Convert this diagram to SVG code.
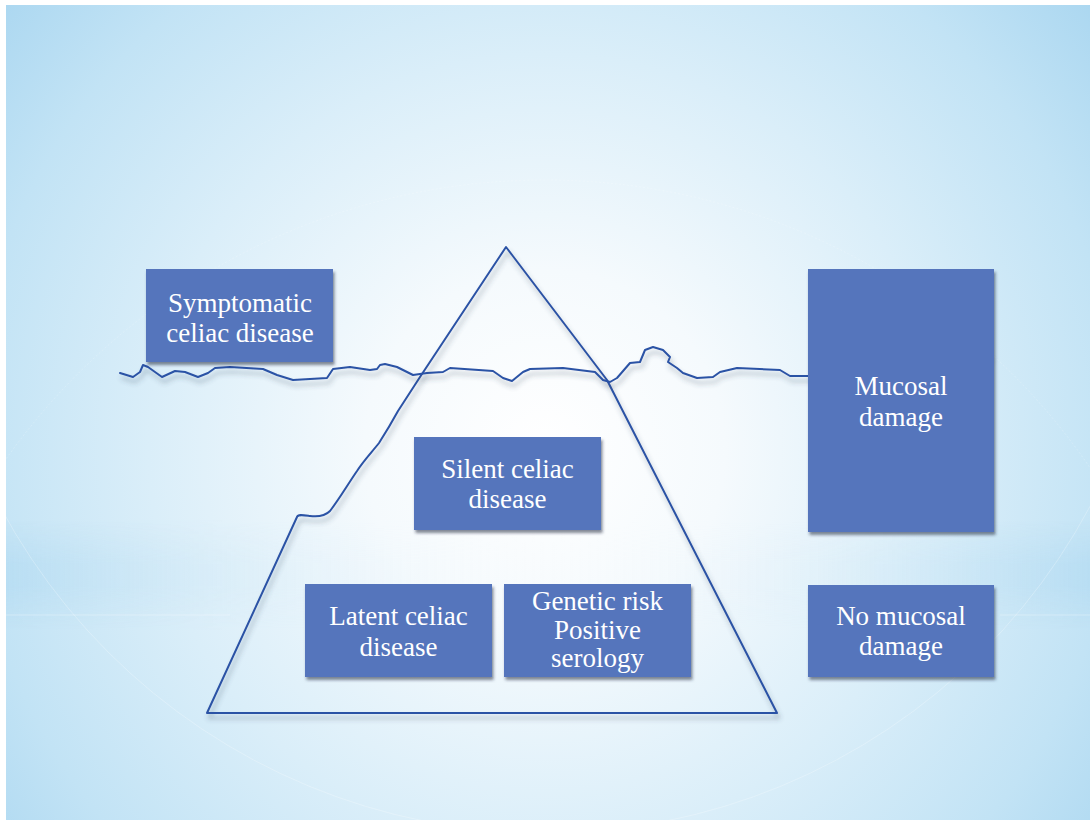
<svg xmlns="http://www.w3.org/2000/svg" width="1090" height="820" viewBox="0 0 1090 820">
  <defs>
    <radialGradient id="bg" gradientUnits="userSpaceOnUse" cx="545" cy="450" r="720">
      <stop offset="0" stop-color="#FFFFFF"/>
      <stop offset="0.25" stop-color="#F5FAFD"/>
      <stop offset="0.55" stop-color="#DAEEF9"/>
      <stop offset="0.8" stop-color="#C2E3F5"/>
      <stop offset="1" stop-color="#A9D6F0"/>
    </radialGradient>
    <linearGradient id="band" x1="0" y1="0" x2="1" y2="0">
      <stop offset="0" stop-color="#A4D3EF" stop-opacity="0.35"/>
      <stop offset="0.25" stop-color="#C6E4F5" stop-opacity="0.12"/>
      <stop offset="0.5" stop-color="#FFFFFF" stop-opacity="0"/>
      <stop offset="0.75" stop-color="#C6E4F5" stop-opacity="0.12"/>
      <stop offset="1" stop-color="#A4D3EF" stop-opacity="0.35"/>
    </linearGradient>
    <linearGradient id="bandV" x1="0" y1="0" x2="0" y2="1">
      <stop offset="0" stop-color="#FFFFFF" stop-opacity="0"/>
      <stop offset="0.4" stop-color="#FFFFFF" stop-opacity="1"/>
      <stop offset="0.6" stop-color="#FFFFFF" stop-opacity="1"/>
      <stop offset="1" stop-color="#FFFFFF" stop-opacity="0"/>
    </linearGradient>
    <mask id="bandMask">
      <rect x="0" y="520" width="1090" height="110" fill="url(#bandV)"/>
    </mask>
    <filter id="boxShadow" x="-10%" y="-10%" width="125%" height="130%">
      <feDropShadow dx="1.5" dy="3" stdDeviation="1.8" flood-color="#1d2a40" flood-opacity="0.55"/>
    </filter>
    <filter id="lineShadow" x="-5%" y="-20%" width="110%" height="160%">
      <feDropShadow dx="2" dy="5" stdDeviation="2.5" flood-color="#3a4a60" flood-opacity="0.4"/>
    </filter>
    <style>
      .box { fill: #5474BC; filter: url(#boxShadow); }
      .lbl { font-family: 'Liberation Serif', 'Times New Roman', serif; font-size: 27px; fill: #FFFFFF; text-anchor: middle; }
      .ice { fill: none; stroke: #2C52A5; stroke-width: 2; stroke-linejoin: round; stroke-linecap: round; filter: url(#lineShadow); }
      .deco { fill: none; stroke: #FFFFFF; stroke-width: 1; }
    </style>
  </defs>

  <!-- background -->
  <rect x="0" y="0" width="1090" height="820" fill="#FFFFFF"/>
  <rect x="6" y="5" width="1084" height="815" fill="url(#bg)"/>
  <rect x="6" y="520" width="1084" height="110" fill="url(#band)" mask="url(#bandMask)"/>
  <line class="deco" x1="6" y1="615" x2="230" y2="615" stroke-opacity="0.3"/>
  <line class="deco" x1="1000" y1="615" x2="1090" y2="615" stroke-opacity="0.3"/>
  <circle class="deco" cx="545" cy="215" r="618" stroke-opacity="0.25"/>
  <circle class="deco" cx="545" cy="840" r="660" stroke-opacity="0.2" stroke-dasharray="2 2"/>

  <!-- connectors / iceberg outline -->
  <g id="connectors">
    <path id="iceberg" class="ice" d="M506,247 L607,380 L777,713 L207,713 L297,517 C298,514 303,515 310,516 C318,517 325,516 330,511 C340,498 348,484 357,471 C364,460 372,452 379,443 C386,432 392,422 398,411 L420,377 Z"/>
    <line id="tier" class="ice" x1="285" y1="553" x2="697" y2="553"/>
    <polyline id="waterline" class="ice" points="120,373 133,377 140,372 143,365 148,367 162,377 175,371 185,372 198,377 208,373 215,368 230,367 263,369 277,375 293,380 327,378 333,369 350,367 370,370 377,369 380,365 385,364 397,367 413,375 427,373 443,372 450,368 493,371 503,378 512,381 523,372 530,369 563,368 595,372 603,380 610,382 617,378 630,363 640,362 645,350 653,347 663,350 670,357 668,362 677,368 683,373 697,378 713,377 720,372 737,368 780,370 790,376 810,376 827,370 837,364 867,366 890,372 910,372 923,368 928,355 933,354 983,355 987,357 990,355"/>
  </g>

  <!-- nodes -->
  <g id="symptomatic">
    <rect class="box" x="146" y="269" width="187" height="93"/>
    <text class="lbl" x="240" y="312">Symptomatic</text>
    <text class="lbl" x="240" y="342">celiac disease</text>
  </g>

  <g id="mucosal-damage">
    <rect class="box" x="808" y="269" width="186" height="263"/>
  </g>

  <g id="silent">
    <rect class="box" x="414" y="437" width="187" height="93"/>
    <text class="lbl" x="507.5" y="478">Silent celiac</text>
    <text class="lbl" x="507.5" y="508">disease</text>
  </g>

  <g id="latent">
    <rect class="box" x="305" y="584" width="187" height="93"/>
    <text class="lbl" x="398.5" y="625">Latent celiac</text>
    <text class="lbl" x="398.5" y="656">disease</text>
  </g>

  <g id="genetic">
    <rect class="box" x="504" y="584" width="187" height="93"/>
    <text class="lbl" x="597.5" y="610">Genetic risk</text>
    <text class="lbl" x="597.5" y="639">Positive</text>
    <text class="lbl" x="597.5" y="667">serology</text>
  </g>

  <g id="no-mucosal">
    <rect class="box" x="808" y="585" width="186" height="92"/>
    <text class="lbl" x="901" y="625">No mucosal</text>
    <text class="lbl" x="901" y="655">damage</text>
  </g>

  <g id="mucosal-damage-label">
    <text class="lbl" x="901" y="395">Mucosal</text>
    <text class="lbl" x="901" y="426">damage</text>
  </g>
</svg>
